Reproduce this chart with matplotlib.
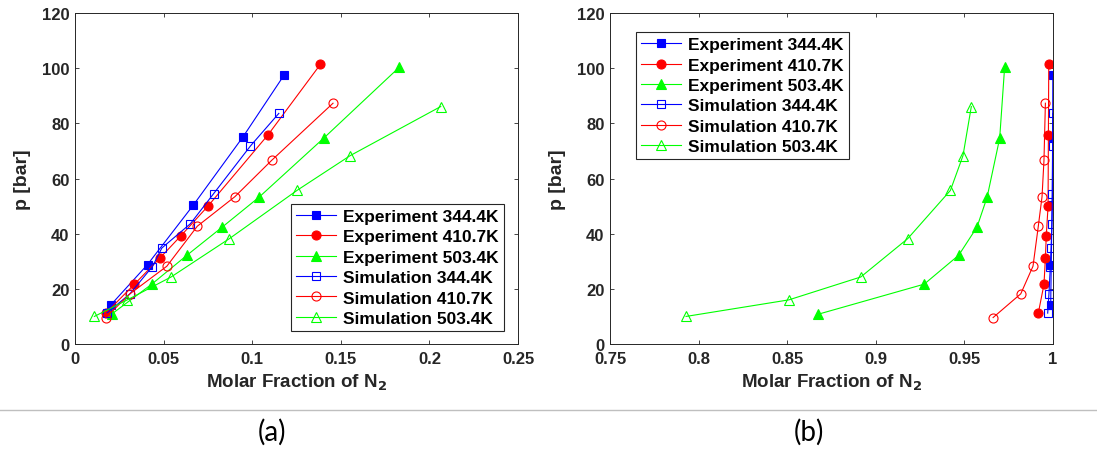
import matplotlib
matplotlib.use('Agg')
from matplotlib import pyplot as plt
from matplotlib.lines import Line2D

plt.rcParams['font.family'] = ['Liberation Sans', 'DejaVu Sans']

labels = ['Experiment 344.4K', 'Experiment 410.7K', 'Experiment 503.4K',
          'Simulation 344.4K', 'Simulation 410.7K', 'Simulation 503.4K']

# pressures [bar]
p_exp_344 = [14.1, 28.8, 50.4, 75.2, 97.7]
p_exp_410 = [11.2, 21.6, 31.1, 39.2, 49.9, 75.9, 101.4]
p_exp_503 = [10.8, 21.7, 32.2, 42.4, 53.2, 74.6, 100.4]
p_sim_344 = [11.2, 18.2, 28.1, 34.8, 43.6, 54.5, 71.8, 83.6]
p_sim_410 = [9.6, 18.2, 28.2, 42.7, 53.4, 66.6, 87.3]
p_sim_503 = [10.0, 16.0, 24.3, 38.2, 55.7, 68.3, 86.1]

# (a) liquid phase N2 fraction
xa_exp_344 = [0.0201, 0.0409, 0.0668, 0.0949, 0.1182]
xa_exp_410 = [0.0174, 0.0334, 0.0478, 0.0597, 0.0749, 0.1090, 0.1385]
xa_exp_503 = [0.0206, 0.0433, 0.0632, 0.0831, 0.1038, 0.1403, 0.1831]
xa_sim_344 = [0.0180, 0.0310, 0.0437, 0.0490, 0.0651, 0.0782, 0.0990, 0.1150]
xa_sim_410 = [0.0173, 0.0310, 0.0518, 0.0690, 0.0902, 0.1110, 0.1456]
xa_sim_503 = [0.0109, 0.0295, 0.0542, 0.0871, 0.1253, 0.1553, 0.2064]

# (b) vapour phase N2 fraction
xb_exp_344 = [0.9987, 0.9990, 0.9995, 0.9998, 0.9999]
xb_exp_410 = [0.9917, 0.9949, 0.9957, 0.9962, 0.9972, 0.9974, 0.9976]
xb_exp_503 = [0.8675, 0.9273, 0.9468, 0.9571, 0.9628, 0.9699, 0.9727]
xb_sim_344 = [0.9970, 0.9977, 0.9985, 0.9989, 0.9994, 0.9997, 0.9998, 0.9999]
xb_sim_410 = [0.9662, 0.9818, 0.9887, 0.9917, 0.9938, 0.9949, 0.9957]
xb_sim_503 = [0.7929, 0.8509, 0.8915, 0.9180, 0.9421, 0.9492, 0.9539]

styles = [('#0000ff', 's', True), ('#ff0000', 'o', True), ('#00ff00', '^', True),
          ('#0000ff', 's', False), ('#ff0000', 'o', False), ('#00ff00', '^', False)]
msizes = {'s': 5.3, 'o': 6.5, '^': 6.5}
tick_col = '#262626'


def draw(ax, xs, ps):
    for (c, m, filled), x, p, lab in zip(styles, xs, ps, labels):
        ax.plot(x, p, color=c, marker=m, markersize=msizes[m], lw=0.8,
                markerfacecolor=c if filled else 'none', markeredgecolor=c,
                markeredgewidth=0.8, label=lab)
    ax.set_ylim(0, 120)
    ax.set_yticks(range(0, 121, 20))
    ax.tick_params(direction='in', top=True, right=True, length=3, width=0.6,
                   colors=tick_col, labelsize=12)
    ax.tick_params(axis='x', pad=5)
    ax.tick_params(axis='y', pad=4)
    for s in ax.spines.values():
        s.set_color(tick_col)
        s.set_linewidth(0.7)
    ax.set_xlabel('Molar Fraction of N$_\\mathbf{2}$', fontsize=13.5, fontweight='bold',
                  color=tick_col, labelpad=4)
    ax.set_ylabel('p [bar]', fontsize=14, fontweight='bold', color=tick_col, labelpad=8)


fig = plt.figure(figsize=(10.97, 4.52), dpi=100)
ax1 = fig.add_axes([0.0684, 0.2367, 0.4038, 0.7323])
ax2 = fig.add_axes([0.5561, 0.2367, 0.4038, 0.7323])

draw(ax1, [xa_exp_344, xa_exp_410, xa_exp_503, xa_sim_344, xa_sim_410, xa_sim_503],
     [p_exp_344, p_exp_410, p_exp_503, p_sim_344, p_sim_410, p_sim_503])
ax1.set_xlim(0, 0.25)
ax1.set_xticks([0, 0.05, 0.1, 0.15, 0.2, 0.25])
ax1.set_xticklabels(['0', '0.05', '0.1', '0.15', '0.2', '0.25'])

draw(ax2, [xb_exp_344, xb_exp_410, xb_exp_503, xb_sim_344, xb_sim_410, xb_sim_503],
     [p_exp_344, p_exp_410, p_exp_503, p_sim_344, p_sim_410, p_sim_503])
ax2.set_xlim(0.75, 1)
ax2.set_xticks([0.75, 0.8, 0.85, 0.9, 0.95, 1])
ax2.set_xticklabels(['0.75', '0.8', '0.85', '0.9', '0.95', '1'])

for ax in (ax1, ax2):
    for t in ax.get_xticklabels() + ax.get_yticklabels():
        t.set_fontweight('bold')

leg_kw = dict(prop={'weight': 'bold', 'size': 12.5}, fancybox=False, framealpha=1,
              edgecolor=tick_col, handlelength=2.3, handletextpad=0.4,
              labelspacing=0.3, borderpad=0.3, borderaxespad=0)
l1 = ax1.legend(loc='lower right', bbox_to_anchor=(0.968, 0.039), **leg_kw)
l2 = ax2.legend(loc='upper left', bbox_to_anchor=(0.0587, 0.943), **leg_kw)
for lg in (l1, l2):
    lg.get_frame().set_linewidth(0.8)

# separator and panel captions
fig.add_artist(Line2D([0, 1], [1 - 411 / 452, 1 - 411 / 452], color='#bfbfbf', lw=1))
fig.text(272 / 1097, 1 - 432 / 452, '(a)', fontsize=20, ha='center', va='center',
         family=['Lato', 'DejaVu Sans'])
fig.text(809 / 1097, 1 - 432 / 452, '(b)', fontsize=20, ha='center', va='center',
         family=['Lato', 'DejaVu Sans'])

fig.savefig('out.png', dpi=100)
